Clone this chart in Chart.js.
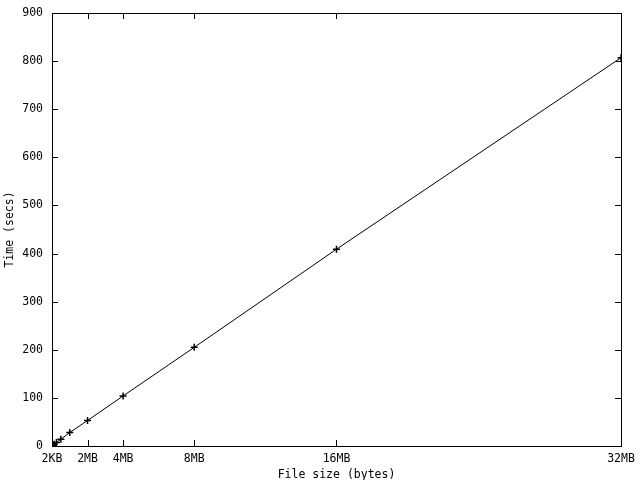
<!DOCTYPE html>
<html>
<head>
<meta charset="utf-8">
<script src="https://cdn.jsdelivr.net/npm/chart.js@4/dist/chart.umd.min.js"></script>
<style>
    body { margin: 0; background: #fff; }
    #wrap { width: 640px; height: 480px; }
</style>
</head>
<body>
<div id="wrap"><canvas id="chart" width="640" height="480"></canvas></div>
<script>
// File sizes in MB (2KB .. 32MB, doubling)
const fileSizesMB = [2/1024, 4/1024, 8/1024, 16/1024, 32/1024, 64/1024, 128/1024, 256/1024, 512/1024, 1, 2, 4, 8, 16, 32];
// Time in seconds
const timesSecs = [0.2, 0.3, 0.4, 0.6, 1.0, 1.8, 3.6, 7.5, 14, 28, 53, 104, 205, 409, 807];

const xTickValues = [2/1024, 2, 4, 8, 16, 32];
const xTickLabels = ['2KB', '2MB', '4MB', '8MB', '16MB', '32MB'];
const yTickValues = [0, 100, 200, 300, 400, 500, 600, 700, 800, 900];

const monoFont = { family: '"DejaVu Sans Mono", monospace', size: 11.5 };

// Gnuplot-ish frame with inward mirrored ticks
const framePlugin = {
    id: 'frame',
    afterDraw(chart) {
        const ctx = chart.ctx;
        const { left, right, top, bottom } = chart.chartArea;
        const xs = chart.scales.x, ys = chart.scales.y;
        const len = 6;
        ctx.save();
        ctx.strokeStyle = '#000';
        ctx.lineWidth = 1;
        ctx.strokeRect(Math.round(left) + 0.5, Math.round(top) + 0.5,
            Math.round(right - left), Math.round(bottom - top));
        ctx.beginPath();
        yTickValues.forEach(v => {
            const y = Math.round(ys.getPixelForValue(v)) + 0.5;
            ctx.moveTo(left, y); ctx.lineTo(left + len, y);
            ctx.moveTo(right, y); ctx.lineTo(right - len, y);
        });
        xTickValues.forEach(v => {
            const x = Math.round(xs.getPixelForValue(v)) + 0.5;
            ctx.moveTo(x, bottom); ctx.lineTo(x, bottom - len);
            ctx.moveTo(x, top); ctx.lineTo(x, top + len);
        });
        ctx.stroke();
        ctx.restore();
    }
};

new Chart(document.getElementById('chart').getContext('2d'), {
    type: 'line',
    data: {
        datasets: [{
            data: fileSizesMB.map((s, i) => ({ x: s, y: timesSecs[i] })),
            borderColor: '#000',
            borderWidth: 1,
            pointStyle: 'cross',
            pointRadius: 3.5,
            pointBorderWidth: 1.5,
            pointBorderColor: '#000',
            tension: 0,
            fill: false
        }]
    },
    options: {
        responsive: false,
        animation: false,
        layout: { padding: { left: 0, right: 19, top: 13, bottom: 0 } },
        plugins: { legend: { display: false }, tooltip: { enabled: false } },
        scales: {
            x: {
                type: 'linear',
                min: 2/1024,
                max: 32,
                grid: { display: false, drawTicks: false },
                border: { display: false },
                afterBuildTicks: (scale) => { scale.ticks = xTickValues.map(v => ({ value: v })); },
                afterFit: (scale) => {
                    scale.height = 34;
                    scale.paddingLeft = 0;
                    scale.paddingRight = 0;
                },
                ticks: {
                    autoSkip: false,
                    maxRotation: 0,
                    padding: 6,
                    color: '#000',
                    font: monoFont,
                    callback: (v) => xTickLabels[xTickValues.indexOf(v)]
                },
                title: {
                    display: true,
                    text: 'File size (bytes)',
                    color: '#000',
                    font: monoFont,
                    padding: { top: 0, bottom: -2 }
                }
            },
            y: {
                type: 'linear',
                min: 0,
                max: 900,
                grid: { display: false, drawTicks: false },
                border: { display: false },
                afterBuildTicks: (scale) => { scale.ticks = yTickValues.map(v => ({ value: v })); },
                afterFit: (scale) => {
                    scale.width = 52;
                    scale.paddingTop = 0;
                    scale.paddingBottom = 0;
                },
                ticks: {
                    padding: 9,
                    color: '#000',
                    font: monoFont
                },
                title: {
                    display: true,
                    text: 'Time (secs)',
                    color: '#000',
                    font: monoFont,
                    padding: { top: 3, bottom: 0 }
                }
            }
        }
    },
    plugins: [framePlugin]
});
</script>
</body>
</html>
